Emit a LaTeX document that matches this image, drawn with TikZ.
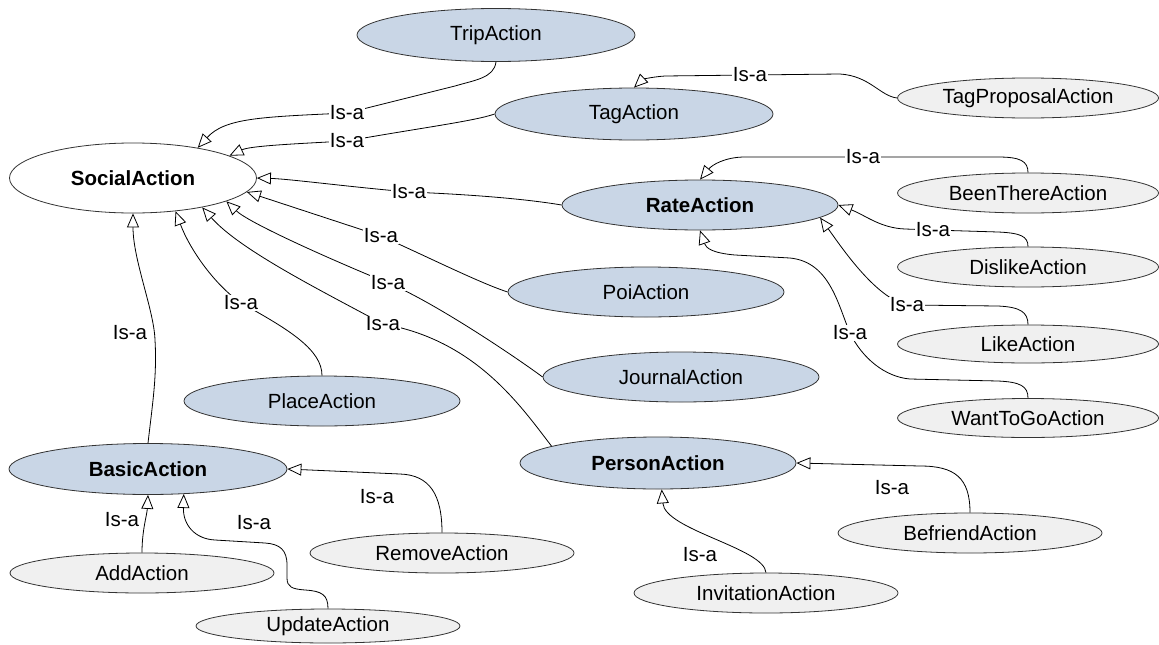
\documentclass[tikz,border=0pt]{standalone}
\usepackage{fontspec}
\setmainfont{Liberation Sans}
\usetikzlibrary{shapes.geometric,arrows.meta}
\definecolor{classblue}{RGB}{201,214,230}
\definecolor{classgrey}{RGB}{240,240,240}
\newcommand{\diagfont}{\fontsize{20.5}{24}\selectfont}
\begin{document}
\begin{tikzpicture}[x=1pt,y=-1pt,
  cls/.style={ellipse, draw=black!80, line width=0.8pt, inner sep=0pt, font=\diagfont},
  abstract/.style={cls, fill=classblue, minimum width=276pt, minimum height=50pt},
  concrete/.style={cls, fill=classgrey, minimum width=264pt, minimum height=40pt},
  rightcol/.style={concrete, minimum width=261pt},
  strong/.style={font=\diagfont\bfseries},
  isa/.style={line width=0.8pt, -{Triangle[length=14pt,width=12pt,fill=white]}},
  rel/.style={fill=white, inner sep=1pt, font=\diagfont}]
\useasboundingbox (0,0) rectangle (1159,645);

% classes
\node[cls, strong, fill=white, minimum width=247pt, minimum height=70pt] (social) at (133,178) {SocialAction};
\node[abstract, minimum width=278pt, minimum height=53pt] (trip) at (496,35) {TripAction};
\node[abstract, minimum width=278pt, minimum height=52pt] (tag) at (634,114) {TagAction};
\node[abstract, strong] (rate) at (700,205) {RateAction};
\node[abstract] (poi) at (646,292) {PoiAction};
\node[abstract] (journal) at (681,377) {JournalAction};
\node[abstract] (place) at (322,401) {PlaceAction};
\node[abstract, strong, minimum width=278pt, minimum height=51pt] (basic) at (148,469) {BasicAction};
\node[abstract, strong, minimum height=52pt] (person) at (658,463) {PersonAction};
\node[rightcol] (tagprop) at (1028,98) {TagProposalAction};
\node[rightcol] (been) at (1028,193) {BeenThereAction};
\node[rightcol] (dislike) at (1028,267) {DislikeAction};
\node[rightcol, minimum height=38pt] (like) at (1028,344) {LikeAction};
\node[rightcol, minimum height=39pt] (want) at (1028,418) {WantToGoAction};
\node[concrete] (remove) at (442,553) {RemoveAction};
\node[concrete] (befriend) at (970,533) {BefriendAction};
\node[concrete] (add) at (142,573) {AddAction};
\node[concrete] (invitation) at (766,593) {InvitationAction};
\node[concrete, minimum height=34pt] (update) at (328,626) {UpdateAction};

% label positions on the connectors
\coordinate (l1) at (347,113);
\coordinate (l2) at (347,141);
\coordinate (l3) at (409,192);
\coordinate (l4) at (381,236);
\coordinate (l5) at (388,283);
\coordinate (l6) at (383,324);
\coordinate (l7) at (241,303);
\coordinate (l9) at (863,157);
\coordinate (l10) at (750,75);
\coordinate (l11) at (933,230);
\coordinate (l12) at (907,305);
\coordinate (l13) at (850,333);

% generalisations into SocialAction
\draw[isa] (trip.south) .. controls (494,78) and (475,80) .. (455,86) -- (l1) .. controls (260,117) and (225,118) .. (social.25);
\draw[isa] (tag.west) .. controls (475,121) and (420,128) .. (l2) .. controls (290,144) and (250,146) .. (social.13);
\draw[isa] (rate.west) .. controls (520,198) and (460,194) .. (l3) .. controls (350,187) and (290,179) .. (social.east);
\draw[isa] (poi.west) .. controls (480,283) and (430,258) .. (l4) -- (social.-7);
\draw[isa] (journal.west) .. controls (510,353) and (430,300) .. (l5) .. controls (320,255) and (248,222) .. (social.-14);
\draw[isa] (person.171) .. controls (520,405) and (475,340) .. (l6) .. controls (320,290) and (240,250) .. (social.-23);
\draw[isa] (place.north) .. controls (322,350) and (290,330) .. (l7) .. controls (215,285) and (190,250) .. (social.-38);
\draw[isa] (basic.north) .. controls (153,400) and (157,375) .. (155,340) .. controls (154,310) and (133,260) .. (social.south);

% generalisations into TagAction and RateAction
\draw[isa] (tagprop.west) .. controls (880,96) and (870,76) .. (840,74) -- (l10) -- (665,76) .. controls (650,77) and (642,80) .. (tag.north);
\draw[isa] (been.north) .. controls (1028,161) and (1020,157) .. (998,157) -- (l9) -- (745,157) .. controls (725,157) and (712,165) .. (rate.north);
\draw[isa] (dislike.north) .. controls (1028,236) and (1020,233) .. (998,232) -- (l11) -- (905,229) .. controls (880,228) and (865,215) .. (rate.east);
\draw[isa] (like.north) .. controls (1028,312) and (1020,307) .. (998,306) -- (l12) .. controls (875,298) and (840,245) .. (rate.-6);
\draw[isa] (want.north) .. controls (1028,386) and (1020,382) .. (998,381) -- (910,379) .. controls (885,377) and (862,358) .. (l13) .. controls (838,305) and (830,262) .. (790,258) -- (735,255) .. controls (712,253) and (706,248) .. (rate.south);

% generalisations into PersonAction and BasicAction
\draw[isa] (befriend.north) .. controls (970,478) and (955,466) .. (920,466) -- (person.east);
\draw[isa] (invitation.north) .. controls (764,548) and (665,530) .. (person.-82);
\draw[isa] (remove.north) .. controls (442,495) and (430,475) .. (400,474) -- (basic.east);
\draw[isa] (add.north) .. controls (142,530) and (147,515) .. (basic.south);
\draw[isa] (update.north) .. controls (328,595) and (322,591) .. (305,590) .. controls (292,589) and (287,587) .. (287,578) -- (287,565) .. controls (287,550) and (280,544) .. (265,543) -- (215,540) .. controls (195,539) and (183,525) .. (basic.-35);

% relation labels
\node[rel] (t1) at (l1) {Is-a};
\node[rel] (t2) at (l2) {Is-a};
\node[rel] (t3) at (l3) {Is-a};
\node[rel] (t4) at (l4) {Is-a};
\node[rel] (t5) at (l5) {Is-a};
\node[rel] (t6) at (l6) {Is-a};
\node[rel] (t7) at (l7) {Is-a};
\node[rel] (t8) at (130,333) {Is-a};
\node[rel] (t9) at (l9) {Is-a};
\node[rel] (t10) at (l10) {Is-a};
\node[rel] (t11) at (l11) {Is-a};
\node[rel] (t12) at (l12) {Is-a};
\node[rel] (t13) at (l13) {Is-a};
\node[rel] (t14) at (892,488) {Is-a};
\node[rel] (t15) at (700,555) {Is-a};
\node[rel] (t16) at (377,497) {Is-a};
\node[rel] (t17) at (122,520) {Is-a};
\node[rel] (t18) at (254,523) {Is-a};
\end{tikzpicture}
\end{document}
